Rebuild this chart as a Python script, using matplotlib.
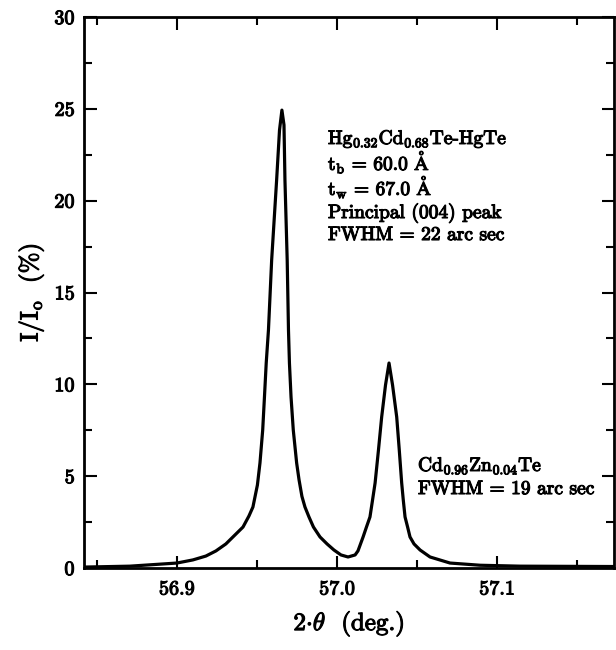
import matplotlib
matplotlib.use("Agg")
import matplotlib.pyplot as plt
import matplotlib.patheffects as pe
from matplotlib.ticker import MultipleLocator, FixedLocator

# rocking curve: 2-theta (deg) vs I/Io (%)
two_theta = [
    56.8419, 56.8706, 56.9000, 56.9100, 56.9181, 56.9244, 56.9306, 56.9356,
    56.9413, 56.9450, 56.9475, 56.9503, 56.9519, 56.9536, 56.9547, 56.9558,
    56.9572, 56.9592, 56.9623, 56.9641, 56.9656,
    56.9669, 56.9675, 56.9689, 56.9697, 56.9703, 56.9713, 56.9727, 56.9748,
    56.9763, 56.9781, 56.9800, 56.9825, 56.9853, 56.9894, 56.9938, 56.9981,
    57.0025, 57.0069,
    57.0113, 57.0131, 57.0163, 57.0184, 57.0206, 57.0222, 57.0238, 57.0259,
    57.0279, 57.0303, 57.0325,
    57.0347, 57.0373, 57.0389, 57.0404, 57.0414, 57.0425, 57.0441, 57.0456,
    57.0481, 57.0519, 57.0581, 57.0706, 57.0894, 57.1144, 57.1731,
]
intensity = [
    0.05, 0.10, 0.27, 0.44, 0.65, 0.93, 1.31, 1.74,
    2.23, 2.83, 3.32, 4.52, 5.72, 7.51, 9.31, 11.16,
    12.96, 16.77, 21.12, 23.84, 24.93,
    24.12, 21.12, 16.77, 12.96, 11.16, 9.31, 7.51, 5.72,
    4.80, 3.90, 3.32, 2.78, 2.23, 1.69, 1.31, 0.98,
    0.71, 0.60,
    0.71, 0.93, 1.69, 2.23, 2.78, 3.70, 4.63, 6.42,
    8.22, 9.96, 11.16,
    9.96, 8.22, 6.42, 4.63, 3.70, 2.78, 2.23, 1.69,
    1.31, 0.98, 0.60, 0.27, 0.15, 0.10, 0.08,
]

x_ticks = [56.9, 57.0, 57.1]
x_tick_labels = ["56.9", "57.0", "57.1"]
y_ticks = [0, 5, 10, 15, 20, 25, 30]

angstrom = r"$\mathrm{Å}$"
film_lines = [
    r"Hg$_{0.32}$Cd$_{0.68}$Te-HgTe",
    r"t$_{\rm b}$ = 60.0 " + angstrom,
    r"t$_{\rm w}$ = 67.0 " + angstrom,
    "Principal (004) peak",
    "FWHM = 22 arc sec",
]
substrate_lines = [
    r"Cd$_{0.96}$Zn$_{0.04}$Te",
    "FWHM = 19 arc sec",
]

plt.rcParams["font.family"] = ["cmr10", "DejaVu Serif"]
plt.rcParams["mathtext.fontset"] = "cm"
plt.rcParams["axes.formatter.use_mathtext"] = True

bold = [pe.withStroke(linewidth=0.8, foreground="black")]

fig = plt.figure(figsize=(6.16, 6.5), dpi=100)
ax = fig.add_axes([84 / 616, 82 / 650, 530 / 616, 551 / 650])

ax.plot(two_theta, intensity, color="black", lw=2.3, solid_joinstyle="round")

ax.set_xlim(56.842, 57.173)
ax.set_ylim(0, 30)
ax.xaxis.set_major_locator(FixedLocator(x_ticks))
ax.set_xticklabels(x_tick_labels)
ax.xaxis.set_minor_locator(MultipleLocator(0.05))
ax.set_yticks(y_ticks)
ax.yaxis.set_minor_locator(MultipleLocator(2.5))

for spine in ax.spines.values():
    spine.set_linewidth(2.0)
ax.tick_params(which="both", direction="in", top=True, right=True, width=1.5)
ax.tick_params(which="major", length=9, labelsize=14.5)
ax.tick_params(axis="x", which="major", pad=9)
ax.tick_params(axis="y", which="major", pad=6)
ax.tick_params(which="minor", length=6)
for lab in ax.get_xticklabels() + ax.get_yticklabels():
    lab.set_path_effects(bold)

ax.set_xlabel(r"2$\cdot\theta$  (deg.)", fontsize=18, labelpad=8,
              path_effects=bold)
ax.set_ylabel(r"I/I$_{\rm o}$  (%)", fontsize=18, labelpad=6,
              path_effects=bold)

# annotation blocks, baselines in pixel rows of the original
for text, row in zip(film_lines, [144, 170, 195, 218, 240]):
    ax.text((328 - 84) / 530, (568 - row) / 551, text, transform=ax.transAxes,
            fontsize=14, va="baseline", ha="left", path_effects=bold)
for text, row in zip(substrate_lines, [471, 494]):
    ax.text((418 - 84) / 530, (568 - row) / 551, text, transform=ax.transAxes,
            fontsize=14, va="baseline", ha="left", path_effects=bold)

fig.savefig("out.png", dpi=100)
